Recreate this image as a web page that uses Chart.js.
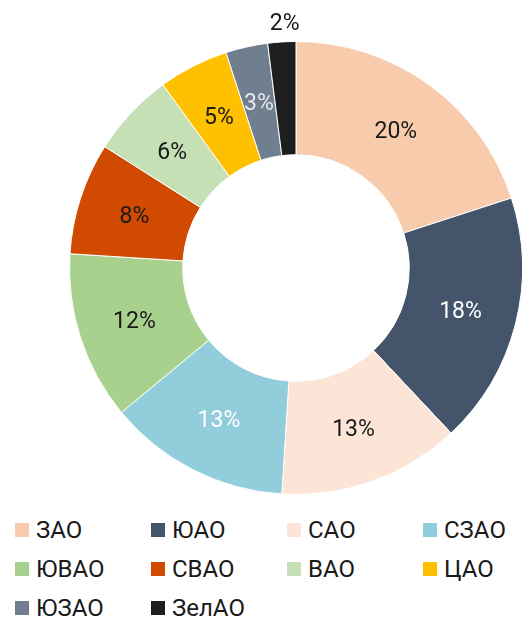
<!DOCTYPE html>
<html>
<head>
<meta charset="utf-8">
<script src="https://cdn.jsdelivr.net/npm/chart.js@4"></script>
<style>
  body { margin: 0; background: #fff; font-family: Roboto, sans-serif; }
  #wrap { position: relative; width: 523px; height: 622px; }
  #chartBox { position: absolute; left: 0; top: 0; width: 523px; height: 500px; }
  #legend { position: absolute; left: 15px; top: 516px; display: grid; grid-template-columns: 136px 136px 136px 136px; row-gap: 11px; }
  .item { display: flex; align-items: center; height: 28px; font-size: 24px; color: #1a1a1a; }
  .box { width: 14px; height: 14px; margin-right: 7px; }
</style>
</head>
<body>
<div id="wrap">
  <div id="chartBox"><canvas id="myChart"></canvas></div>
  <div id="legend"></div>
</div>
<script>
let districts = ['ЗАО', 'ЮАО', 'САО', 'СЗАО', 'ЮВАО', 'СВАО', 'ВАО', 'ЦАО', 'ЮЗАО', 'ЗелАО'];
let shares = [20, 18, 13, 13, 12, 8, 6, 5, 3, 2];
let colors = ['#F8CBAD', '#44546A', '#FCE4D6', '#92CDDC', '#A9D18E', '#D04A02', '#C5E0B4', '#FFC000', '#6F7F8F', '#1E1E1E'];
let labelColors = ['#1a1a1a', '#ffffff', '#1a1a1a', '#ffffff', '#1a1a1a', '#1a1a1a', '#1a1a1a', '#1a1a1a', '#e8e8e8', '#1a1a1a'];

// percent labels on the slices; the smallest one goes outside
const sliceLabels = {
    id: 'sliceLabels',
    afterDatasetsDraw(chart) {
        const ctx = chart.ctx;
        const arcs = chart.getDatasetMeta(0).data;
        ctx.save();
        ctx.font = '23px Roboto';
        ctx.textAlign = 'center';
        ctx.textBaseline = 'middle';
        arcs.forEach((arc, i) => {
            let p;
            if (shares[i] <= 2) {
                const a = (arc.startAngle + arc.endAngle) / 2;
                const r = arc.outerRadius + 18;
                p = { x: arc.x + Math.cos(a) * r + 4, y: arc.y + Math.sin(a) * r };
            } else {
                p = arc.getCenterPoint();
                p.y += 2;
            }
            ctx.fillStyle = labelColors[i];
            ctx.fillText(shares[i] + '%', p.x, p.y);
        });
        ctx.restore();
    }
};

new Chart("myChart", {
    type: "doughnut",
    data: {
        labels: districts,
        datasets: [{
            data: shares,
            backgroundColor: colors,
            borderColor: '#ffffff',
            borderWidth: 1
        }]
    },
    options: {
        responsive: true,
        maintainAspectRatio: false,
        animation: false,
        cutout: '50%',
        layout: { padding: { left: 69, top: 41, right: 0, bottom: 5 } },
        plugins: {
            legend: { display: false },
            tooltip: { enabled: false }
        }
    },
    plugins: [sliceLabels]
});

const legend = document.getElementById('legend');
districts.forEach((d, i) => {
    const item = document.createElement('div');
    item.className = 'item';
    item.innerHTML = '<span class="box" style="background:' + colors[i] + '"></span>' + d;
    legend.appendChild(item);
});
</script>
</body>
</html>
